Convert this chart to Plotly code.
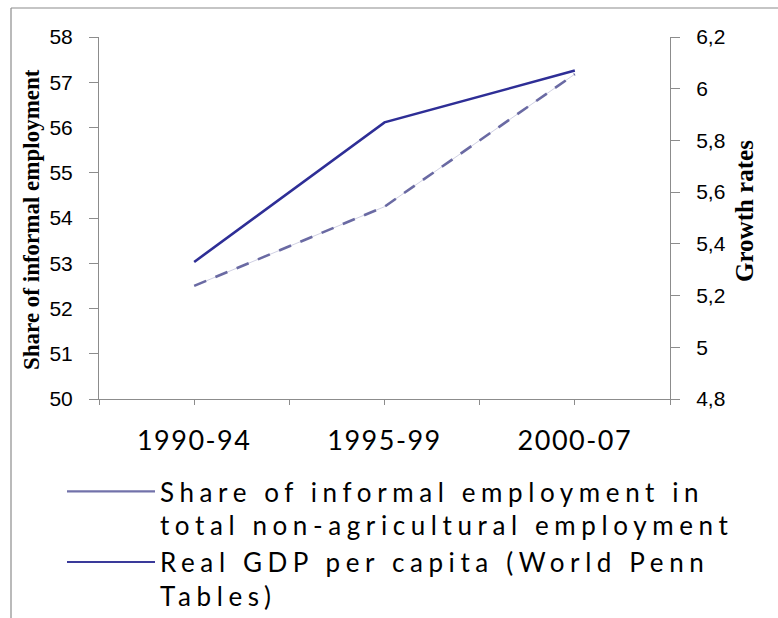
import plotly.graph_objects as go

# ---- data ----
periods = ["1990-94", "1995-99", "2000-07"]
informal_share = [52.5, 54.25, 57.18]      # left axis (%)
gdp_growth = [5.33, 5.87, 6.07]            # right axis (growth rates)
share_lines = ["Share of informal employment in", "total non-agricultural employment"]
gdp_lines = ["Real GDP per capita (World Penn", "Tables)"]
left_title = "Share of informal employment"
right_title = "Growth rates"

# ---- layout geometry (pixels) ----
W, H = 778, 618
L, R, T, B = 99, 670, 37, 399


def px(x):
    return (x - L) / (R - L)


def py(y):
    return (B - y) / (B - T)


def spaced(lines, sp):
    return "<br>".join(f'<span style="letter-spacing:{sp}px">{s}</span>' for s in lines)


xpos = list(range(len(periods)))
tickvals = []
ticktext = []
for i, p in enumerate(periods):
    tickvals += [i - 0.5, i]
    ticktext += ["", spaced([p], 1.5)]
tickvals.append(len(periods) - 0.5)
ticktext.append("")

fig = go.Figure()
# thin connecting line visible inside dash gaps
fig.add_trace(go.Scatter(x=xpos, y=informal_share, mode="lines",
                         line=dict(color="#c4c4dc", width=0.8),
                         showlegend=False, hoverinfo="skip"))
fig.add_trace(go.Scatter(x=xpos, y=informal_share, mode="lines",
                         line=dict(color="#6a6aa3", width=2.6, dash="13px,10px"),
                         showlegend=False))
fig.add_trace(go.Scatter(x=xpos, y=gdp_growth, yaxis="y2", mode="lines",
                         line=dict(color="#2e2e96", width=2.6),
                         showlegend=False))
# legend entries (solid samples as in the original)
fig.add_trace(go.Scatter(x=[None], y=[None], mode="lines",
                         line=dict(color="#7272aa", width=2.2),
                         name=spaced(share_lines, 5.6)))
fig.add_trace(go.Scatter(x=[None], y=[None], mode="lines",
                         line=dict(color="#3a3a9a", width=2.2),
                         name=spaced(gdp_lines, 5.6)))

axis_gray = "#8c8c8c"
fig.update_layout(
    width=W, height=H,
    margin=dict(l=L, r=W - R, t=T, b=H - B, autoexpand=False),
    paper_bgcolor="white", plot_bgcolor="white",
    separators=",.",
    showlegend=True,
    legend=dict(x=px(62), y=py(468), xanchor="left", yanchor="top",
                font=dict(family="Lato", size=26, color="black"),
                itemwidth=88, valign="top", tracegroupgap=0,
                bgcolor="rgba(0,0,0,0)", traceorder="normal"),
    xaxis=dict(range=[-0.5, len(periods) - 0.5], tickmode="array",
               tickvals=tickvals, ticktext=ticktext,
               showline=True, linecolor=axis_gray, linewidth=1,
               ticks="outside", ticklen=5, tickcolor=axis_gray,
               showgrid=False, zeroline=False, ticklabelstandoff=13,
               tickfont=dict(family="Lato", size=27, color="black")),
    yaxis=dict(range=[50, 58], dtick=1, tick0=50,
               showline=True, linecolor=axis_gray, linewidth=1,
               ticks="outside", ticklen=9, tickcolor=axis_gray,
               showgrid=False, zeroline=False, ticklabelstandoff=12,
               tickfont=dict(family="Liberation Sans", size=21, color="black")),
    yaxis2=dict(range=[4.8, 6.2], dtick=0.2, tick0=4.8, overlaying="y", side="right",
                showline=True, linecolor=axis_gray, linewidth=1,
                ticks="outside", ticklen=9, tickcolor=axis_gray,
                showgrid=False, zeroline=False, ticklabelstandoff=12,
                tickfont=dict(family="Liberation Sans", size=21, color="black")),
    annotations=[
        dict(text=left_title, x=px(31), y=py(220), xref="paper", yref="paper",
             textangle=-90, showarrow=False, xanchor="center", yanchor="middle",
             font=dict(family="Liberation Serif", size=23, color="black", weight="bold")),
        dict(text=right_title, x=px(744), y=py(211), xref="paper", yref="paper",
             textangle=-90, showarrow=False, xanchor="center", yanchor="middle",
             font=dict(family="Liberation Serif", size=25, color="black", weight="bold")),
    ],
    shapes=[
        dict(type="line", xref="paper", yref="paper", x0=px(11), x1=px(800),
             y0=py(8), y1=py(8), line=dict(color="#8c8c8c", width=1.2)),
        dict(type="line", xref="paper", yref="paper", x0=px(11), x1=px(11),
             y0=py(8), y1=py(640), line=dict(color="#8c8c8c", width=1.2)),
    ],
)

fig.write_html("out.html", config={"displayModeBar": False},
               post_script="document.body.style.margin='0';document.body.style.overflow='hidden';")
